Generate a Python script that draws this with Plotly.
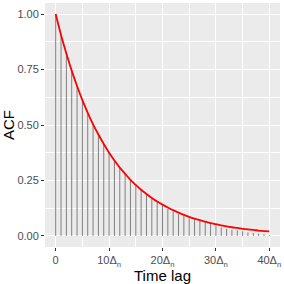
import plotly.graph_objects as go

lags = list(range(41))
acf_bars = [1.00, 0.905, 0.82, 0.745, 0.675, 0.612, 0.555, 0.503, 0.456, 0.413,
            0.375, 0.34, 0.308, 0.279, 0.253, 0.229, 0.208, 0.188, 0.17, 0.154,
            0.137, 0.121, 0.109, 0.099, 0.09, 0.082, 0.076, 0.07, 0.064, 0.058,
            0.048, 0.038, 0.032, 0.028, 0.025, 0.021, 0.016, 0.013, 0.010, 0.008,
            0.004]
curve_vals = [1.000, 0.906, 0.822, 0.745, 0.676, 0.612, 0.555, 0.503, 0.457, 0.414,
              0.375, 0.340, 0.308, 0.280, 0.253, 0.230, 0.208, 0.189, 0.171, 0.155,
              0.141, 0.128, 0.116, 0.105, 0.095, 0.086, 0.078, 0.071, 0.064, 0.058,
              0.053, 0.048, 0.043, 0.039, 0.036, 0.032, 0.029, 0.027, 0.024, 0.022,
              0.020]
x_tickvals = [0, 10, 20, 30, 40]
x_ticktext = ["0", "10Δ<sub>n</sub>", "20Δ<sub>n</sub>", "30Δ<sub>n</sub>", "40Δ<sub>n</sub>"]
y_tickvals = [0, 0.25, 0.5, 0.75, 1.0]
y_ticktext = ["0.00", "0.25", "0.50", "0.75", "1.00"]

seg_x, seg_y = [], []
for l, a in zip(lags, acf_bars):
    seg_x += [l, l, None]
    seg_y += [0, a, None]

fig = go.Figure()
fig.add_trace(go.Scatter(x=seg_x, y=seg_y, mode="lines",
                         line=dict(color="#7F7F7F", width=1), hoverinfo="skip"))
fig.add_trace(go.Scatter(x=lags, y=curve_vals, mode="lines", line_shape="spline",
                         line=dict(color="#FF0000", width=1.8)))

font = "Liberation Sans, Arial, sans-serif"
fig.update_layout(
    width=284, height=284,
    margin=dict(l=43.5, r=3, t=3, b=33.5),
    paper_bgcolor="white", plot_bgcolor="#EBEBEB",
    showlegend=False,
    font=dict(family=font, color="#4D4D4D", size=11),
)
fig.update_xaxes(
    range=[-2, 42], tickvals=x_tickvals, ticktext=x_ticktext,
    showgrid=True, gridcolor="white", gridwidth=1.1,
    minor=dict(showgrid=True, gridcolor="white", gridwidth=0.5, tick0=5, dtick=10),
    ticks="outside", ticklen=3, tickcolor="#333333", tickwidth=1,
    tickfont=dict(size=11, color="#4D4D4D", family=font),
    title=dict(text="Time lag", font=dict(size=15, color="black", family=font), standoff=2),
    zeroline=False, showline=False,
)
fig.update_yaxes(
    range=[-0.05, 1.05], tickvals=y_tickvals, ticktext=y_ticktext,
    showgrid=True, gridcolor="white", gridwidth=1.1,
    minor=dict(showgrid=True, gridcolor="white", gridwidth=0.5, tick0=0.125, dtick=0.25),
    ticks="outside", ticklen=3, tickcolor="#333333", tickwidth=1,
    tickfont=dict(size=11, color="#4D4D4D", family=font),
    title=dict(text="ACF", font=dict(size=15, color="black", family=font), standoff=4),
    zeroline=False, showline=False,
)
fig.write_html("out.html", config={"displayModeBar": False},
               post_script="document.body.style.margin='0';")
